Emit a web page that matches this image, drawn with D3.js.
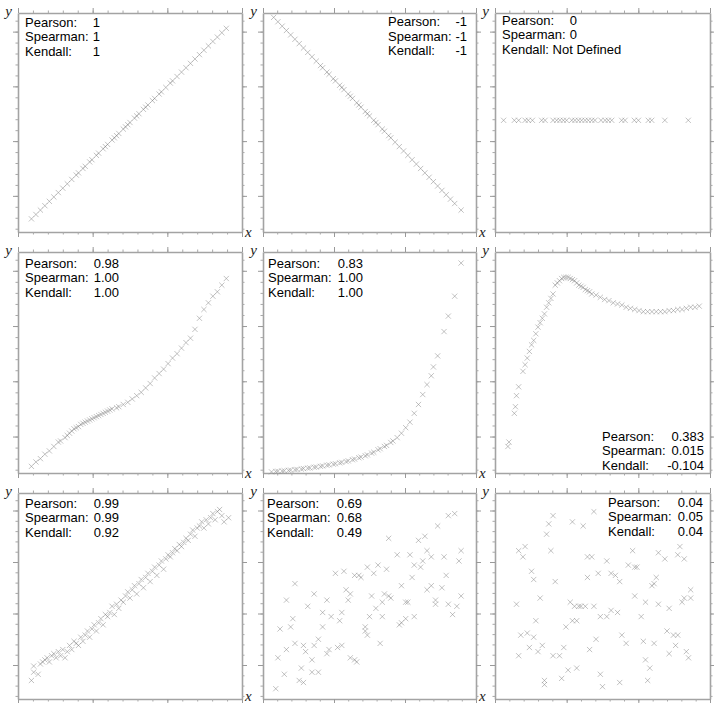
<!DOCTYPE html>
<html>
<head>
<meta charset="utf-8">
<script src="https://cdn.jsdelivr.net/npm/d3@7"></script>
<style>
  body { margin: 0; background: #fff; }
  .stat { font-family: "Liberation Sans", Arial, sans-serif; font-size: 13px; fill: #000; }
  .axlab { font-family: "Liberation Serif", "Times New Roman", serif; font-style: italic; font-size: 15px; fill: #222; }
</style>
</head>
<body>
<div id="chart"></div>
<script>
// ---- data (both axes of every panel are read on a 0..100 scale) ----
const statNames = ["Pearson:", "Spearman:", "Kendall:"];

const stats = [
    ["1", "1", "1"],
    ["-1", "-1", "-1"],
    ["0", "0", "Not Defined"],
    ["0.98", "1.00", "1.00"],
    ["0.83", "1.00", "1.00"],
    ["0.383", "0.015", "-0.104"],
    ["0.99", "0.99", "0.92"],
    ["0.69", "0.68", "0.49"],
    ["0.04", "0.05", "0.04"]
];

const linearUp = [[6,6],[8,8],[10,10],[12,12],[14,14],[16,16],[18,18],[20,20],[22,22],[24,24],[26,26],[27,27],
    [29,29],[30,30],[32,32],[33,33],[35,35],[36,36],[38,38],[39,39],[40,40],[42,42],[43,43],[44,44],[45,45],
    [47,47],[48,48],[49,49],[50,50],[52,52],[53,53],[54,54],[56,56],[57,57],[58,58],[60,60],[61,61],[63,63],
    [64,64],[66,66],[68,68],[69,69],[71,71],[73,73],[75,75],[77,77],[79,79],[81,81],[83,83],[85,85],[87,87],
    [89,89],[91,91],[93,93]];

const linearDown = [[5,98],[7,96],[9,94],[11,92],[13,90],[15,88],[17,86],[19,84],[21,82],[23,80],[25,78],[27,76],
    [28,75],[30,73],[31,72],[33,70],[34,69],[36,67],[37,66],[38,65],[40,63],[41,62],[42,61],[44,59],[45,58],
    [46,57],[48,55],[49,54],[50,53],[52,51],[53,50],[54,49],[56,47],[57,46],[59,44],[60,43],[62,41],[64,39],
    [66,37],[68,35],[70,33],[72,31],[74,29],[76,27],[78,25],[80,23],[82,21],[84,19],[86,17],[88,15],[90,13],[93,10]];

const flatRow = [[4,51],[9,51],[11,51],[14,51],[15.5,51],[17.4,51],[21.7,51],[23.3,51],[27,51],[28.7,51],[30.2,51],
    [31.8,51],[33.3,51],[35.7,51],[37.2,51],[38.8,51],[40.3,51],[41.9,51],[43.4,51],[45,51],[46.5,51],[49.3,51],
    [51.2,51],[52.7,51],[54.3,51],[58.9,51],[60.5,51],[64.8,51],[66.7,51],[71.3,51],[72.9,51],[79,51],[89.9,51]];

const sCurve = [[6,3],[8,5],[10,6.5],[12,8.5],[14,10],[16,12],[18,14],[19,14.5],[21,16],[22,17],[23,18],[24,19],
    [25,20],[26,20.5],[27,21],[28,22],[29,22.5],[30,23],[31,23.5],[32,24],[33,24.5],[34,25],[35,25.5],[36,26],
    [37,26.5],[38,27],[39,27.5],[40,28],[41,28.5],[42,29],[44,29.5],[45,30],[47,31],[49,32],[51,33.5],[53,35],
    [55,36.5],[57,38.5],[59,40.5],[61,43],[63,45],[65,47],[67,49.5],[69,52],[71,54],[73,56.5],[75,59],[77,61],
    [79,65],[81,70],[83,74],[85,77],[87,80],[89,82],[91,85],[93,88]];

const expCurve = [[4,0.5],[6,0.7],[7,0.8],[9,0.9],[10,1],[12,1.2],[13,1.3],[15,1.5],[16,1.6],[18,1.8],[19,2],
    [21,2.2],[22,2.3],[24,2.6],[25,2.7],[27,3],[28,3.2],[30,3.5],[31,3.7],[33,4],[34,4.2],[36,4.6],[37,4.8],
    [39,5.2],[40,5.5],[42,6],[43,6.3],[45,6.9],[46,7.2],[48,7.8],[49,8.2],[51,9],[52,9.4],[54,10.5],[55,11],
    [57,12],[58,12.5],[60,13.8],[61,14.5],[63,16],[65,18],[67,20.5],[69,23],[71,27],[73,31],[75,35.5],[77,40],
    [79,44],[80,48],[82,53],[85,64],[87,71],[90,80],[93,95]];

const humpCurve = [[6,12],[6.5,14],[9,27],[9.5,30],[10,35],[11,39],[13,46],[14,49],[15,52],[16,55],[17,58],[18,60],
    [19,63],[20,66],[21,68],[22,70],[23,72],[24,75],[25,77],[26,79],[27,81],[28,85],[29,86],[30,87],[31,88],
    [32,88.5],[33,88.5],[34,88.5],[35,88],[36,87.5],[37,87],[38,86],[39,85],[40,84.5],[41,84],[42,83],[43,82.5],
    [44,82],[45,81],[47,80.5],[49,79.5],[51,78.5],[53,78],[55,77],[57,76.5],[59,76],[61,75],[63,74.5],[65,74],
    [67,73.5],[69,73],[71,73],[73,73],[75,73],[77,73],[79,73],[81,73.5],[83,73.5],[85,74],[87,74],[89,74.5],
    [91,75],[93,75],[95,75.5]];

const noisyLine = [[6,9],[7,13],[7,16],[9,12],[10,17],[11,18],[12,19],[13,20],[14,18],[15,21],[16,22],[17,20],
    [18,23],[19,21],[20,24],[21,20],[22,23],[23,26],[24,24],[25,28],[26,27],[27,26],[28,30],[29,28],[30,31],
    [31,33],[32,30],[33,34],[34,36],[35,33],[36,37],[37,39],[38,36],[39,41],[40,40],[41,42],[42,45],[43,41],
    [44,46],[45,44],[46,48],[47,47],[48,50],[49,52],[50,49],[51,53],[52,55],[53,51],[54,56],[55,58],[56,54],
    [57,59],[58,61],[59,57],[60,62],[61,64],[62,60],[63,65],[64,67],[65,63],[66,68],[67,70],[68,69],[69,71],
    [70,73],[71,72],[72,75],[73,74],[74,76],[75,78],[76,77],[77,80],[78,82],[79,79],[80,83],[81,84],[82,86],
    [83,83],[84,87],[85,85],[86,88],[87,90],[88,87],[89,91],[90,92],[91,89],[92,86],[94,88]];

const moderate = [[6,5],[10,12],[7,20],[11,24],[8,34],[13,35],[14,39],[15,27],[17,9],[18,15],[19,8],[19,26],
    [20,23],[23,19],[23,13],[26,13],[24,26],[26,29],[28,35],[28,42],[21,45],[24,51],[30,48],[32,40],[36,38],
    [37,42],[35,25],[37,26],[30,22],[31,24],[34,61],[38,62],[39,53],[41,51],[40,48],[43,60],[45,60],[46,59],
    [49,64],[52,61],[54,65],[58,63],[51,50],[50,40],[48,35],[48,33],[49,31],[53,44],[55,27],[56,40],[56,47],
    [57,51],[59,50],[60,49],[59,78],[63,70],[65,55],[67,47],[68,47],[64,36],[65,37],[67,39],[71,40],[70,59],
    [69,70],[71,65],[74,64],[73,77],[76,79],[77,72],[79,69],[75,67],[77,53],[79,55],[81,48],[81,46],[84,54],
    [85,69],[86,60],[82,84],[87,89],[90,90],[93,72],[92,67],[93,50],[91,45],[89,41],[87,46],[41,20],[43,19],
    [44,18],[15,56],[11,48]];

const noCorr = [[10,46],[11,21],[12,31],[14,74],[13,69],[11,72],[15,32],[16,25],[17,62],[18,58],[18,30],[19,38],
    [20,23],[22,26],[21,49],[23,9],[23,7],[24,80],[25,85],[27,89],[26,72],[27,21],[28,57],[30,21],[31,10],
    [32,25],[33,35],[34,14],[35,47],[36,38],[36,86],[37,45],[38,15],[38,38],[39,45],[40,45],[41,84],[42,45],
    [43,59],[43,69],[44,24],[45,69],[46,45],[46,91],[47,29],[48,61],[49,40],[49,12],[50,6],[52,40],[52,67],
    [54,43],[54,61],[56,60],[57,42],[58,57],[58,8],[59,31],[61,27],[62,65],[64,72],[65,50],[65,64],[66,64],
    [68,40],[69,28],[70,47],[70,19],[71,9],[72,15],[73,55],[74,56],[74,27],[75,59],[76,46],[76,71],[79,68],
    [80,33],[81,44],[81,22],[83,31],[84,26],[85,31],[85,70],[86,74],[87,47],[88,68],[88,49],[89,23],[90,20],
    [91,49],[91,53]];

const panelPoints = [linearUp, linearDown, flatRow, sCurve, expCurve, humpCurve, noisyLine, moderate, noCorr];

// ---- layout ----
const width = 714, height = 703;
const colL = [18, 263, 495], colR = [242, 476, 710];
const rowT = [13, 252, 493], rowB = [232, 473, 699];

// where the three stat lines sit: label x, right end of values, first baseline
const statPos = [
    {tx: 25, vx: 100, ty: 26.5},
    {tx: 388, vx: 467, ty: 26},
    {tx: 502, vx: 577, ty: 24.5},
    {tx: 25, vx: 119, ty: 267.5},
    {tx: 268, vx: 363, ty: 267.5},
    {tx: 602, vx: 704, ty: 440.5},
    {tx: 25, vx: 119, ty: 507.5},
    {tx: 267, vx: 362, ty: 507.5},
    {tx: 608, vx: 703, ty: 506.5}
];
const lineGap = 14.6;

const svg = d3.select("#chart").append("svg")
    .attr("width", width)
    .attr("height", height);

const xMajor = [0, 100 / 3, 200 / 3, 100];
const xMinor = d3.range(0, 100.01, 100 / 15);
const yMajor = [16.5, 41.5, 66.5, 91.5];
const yMinor = d3.range(1.5, 100, 5);

const crossPath = "M-2.6,-2.6L2.6,2.6M-2.6,2.6L2.6,-2.6";

panelPoints.forEach((pts, i) => {
    let col = i % 3, row = Math.floor(i / 3);
    let L = colL[col], R = colR[col], T = rowT[row], B = rowB[row];

    let x = d3.scaleLinear().domain([0, 100]).range([L, R]);
    let y = d3.scaleLinear().domain([0, 100]).range([B, T]);

    let g = svg.append("g").attr("class", "panel");

    // frame with outward ticks on all four sides
    let axes = [
        {ax: d3.axisBottom(x), t: `translate(0,${B})`, major: xMajor, minor: xMinor},
        {ax: d3.axisTop(x), t: `translate(0,${T})`, major: xMajor, minor: xMinor},
        {ax: d3.axisLeft(y), t: `translate(${L},0)`, major: yMajor, minor: yMinor},
        {ax: d3.axisRight(y), t: `translate(${R},0)`, major: yMajor, minor: yMinor}
    ];
    axes.forEach(a => {
        g.append("g")
            .attr("transform", a.t)
            .call(a.ax.tickValues(a.minor).tickSize(2.5).tickSizeOuter(0).tickFormat(""))
            .call(s => s.select(".domain").attr("stroke", "#a3a3a3").attr("stroke-width", 1.6))
            .call(s => s.selectAll(".tick line").attr("stroke", "#a8a8a8"));
        g.append("g")
            .attr("transform", a.t)
            .call(a.ax.tickValues(a.major).tickSize(5).tickSizeOuter(0).tickFormat(""))
            .call(s => s.select(".domain").remove())
            .call(s => s.selectAll(".tick line").attr("stroke", "#999"));
    });

    g.append("text").attr("class", "axlab")
        .attr("x", L - 6).attr("y", T + 3)
        .attr("text-anchor", "end")
        .text("y");
    // the right-hand column has no room for its x label
    if (col < 2) {
        g.append("text").attr("class", "axlab")
            .attr("x", R + 3).attr("y", Math.min(B + 5, height - 2))
            .text("x");
    }

    // points
    g.append("g").selectAll("path")
        .data(pts)
        .join("path")
        .attr("d", crossPath)
        .attr("transform", d => `translate(${x(d[0])},${y(d[1])})`)
        .attr("fill", "none")
        .attr("stroke", "#858585")
        .attr("stroke-opacity", 0.5)
        .attr("stroke-width", 1);

    // coefficients
    let p = statPos[i];
    stats[i].forEach((v, k) => {
        let yy = p.ty + k * lineGap;
        if (isNaN(+v)) {
            g.append("text").attr("class", "stat")
                .attr("x", p.tx).attr("y", yy)
                .text(statNames[k] + " " + v);
        } else {
            g.append("text").attr("class", "stat")
                .attr("x", p.tx).attr("y", yy)
                .text(statNames[k]);
            g.append("text").attr("class", "stat")
                .attr("x", p.vx).attr("y", yy)
                .attr("text-anchor", "end")
                .text(v);
        }
    });
});
</script>
</body>
</html>
